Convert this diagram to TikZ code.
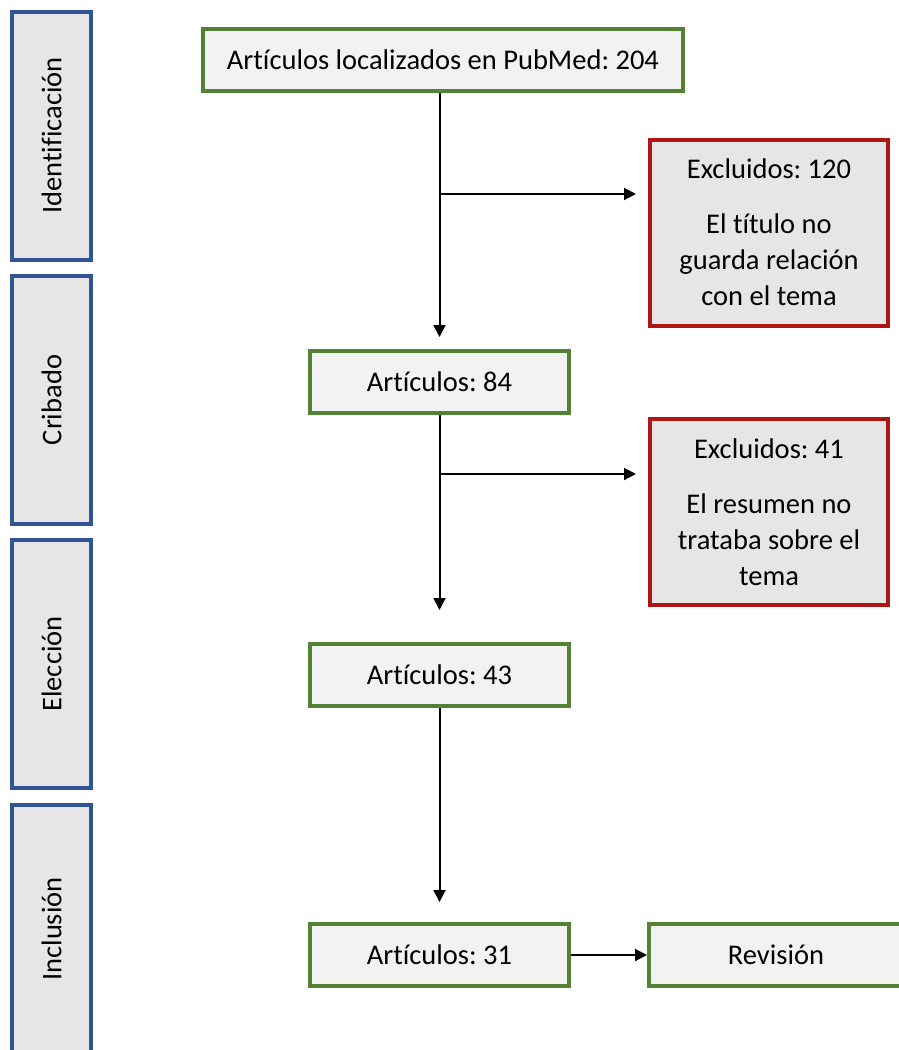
\documentclass[tikz,border=0pt]{standalone}
\usepackage{fontspec}
\setmainfont{Carlito}[Ligatures={NoCommon}]
\frenchspacing
\usetikzlibrary{arrows.meta}
\definecolor{bblue}{HTML}{2F5597}
\definecolor{ggreen}{HTML}{548235}
\definecolor{rred}{HTML}{B01515}
\definecolor{lgray}{HTML}{E6E6E6}
\definecolor{vlgray}{HTML}{F2F2F2}
\begin{document}
\begin{tikzpicture}[x=1pt,y=-1pt,
  font=\fontsize{28.5}{36}\selectfont\frenchspacing,
  stage/.style={draw=bblue,line width=4pt,fill=lgray,minimum width=248pt,minimum height=79pt,inner sep=0pt,rotate=90},
  greenbox/.style={draw=ggreen,line width=4pt,fill=vlgray,minimum height=62pt,inner sep=0pt},
  redbox/.style={draw=rred,line width=4pt,fill=lgray,minimum width=238pt,minimum height=186pt,inner sep=0pt,align=center},
  conn/.style={line width=2pt,-{Triangle[length=12pt,width=12pt]}}]
\useasboundingbox (0,0) rectangle (899,1050);
\node[stage] (s1) at (51.5,135.5) {Identificación};
\node[stage] (s2) at (51.5,400) {Cribado};
\node[stage] (s3) at (51.5,664) {Elección};
\node[stage] (s4) at (51.5,929) {Inclusión};

\node[greenbox,minimum width=480pt] (a) at (443,60) {Artículos localizados en PubMed: 204};
\node[greenbox,minimum width=259pt] (b) at (439.5,382) {Artículos: 84};
\node[greenbox,minimum width=259pt] (c) at (439.5,675) {Artículos: 43};
\node[greenbox,minimum width=259pt] (d) at (439.5,955) {Artículos: 31};
\node[greenbox,minimum width=254pt] (rev) at (776,955) {Revisión};

\node[redbox] (r1) at (769,232.5) {Excluidos: 120\\[19pt]El título no\\guarda relación\\con el tema};
\node[redbox] (r2) at (769,512) {Excluidos: 41\\[19pt]El resumen no\\trataba sobre el\\tema};

\coordinate (j1) at (439.5,194);
\coordinate (j2) at (439.5,474);
\draw[conn,shorten >=12pt] (a.south -| b.north) -- (b.north);
\draw[conn,shorten >=12pt] (j1) -- (j1 -| r1.west);
\draw[conn,shorten >=32pt] (b.south) -- (c.north);
\draw[conn,shorten >=12pt] (j2) -- (j2 -| r2.west);
\draw[conn,shorten >=20pt] (c.south) -- (d.north);
\draw[conn] (d.east) -- (rev.west);
\end{tikzpicture}
\end{document}
